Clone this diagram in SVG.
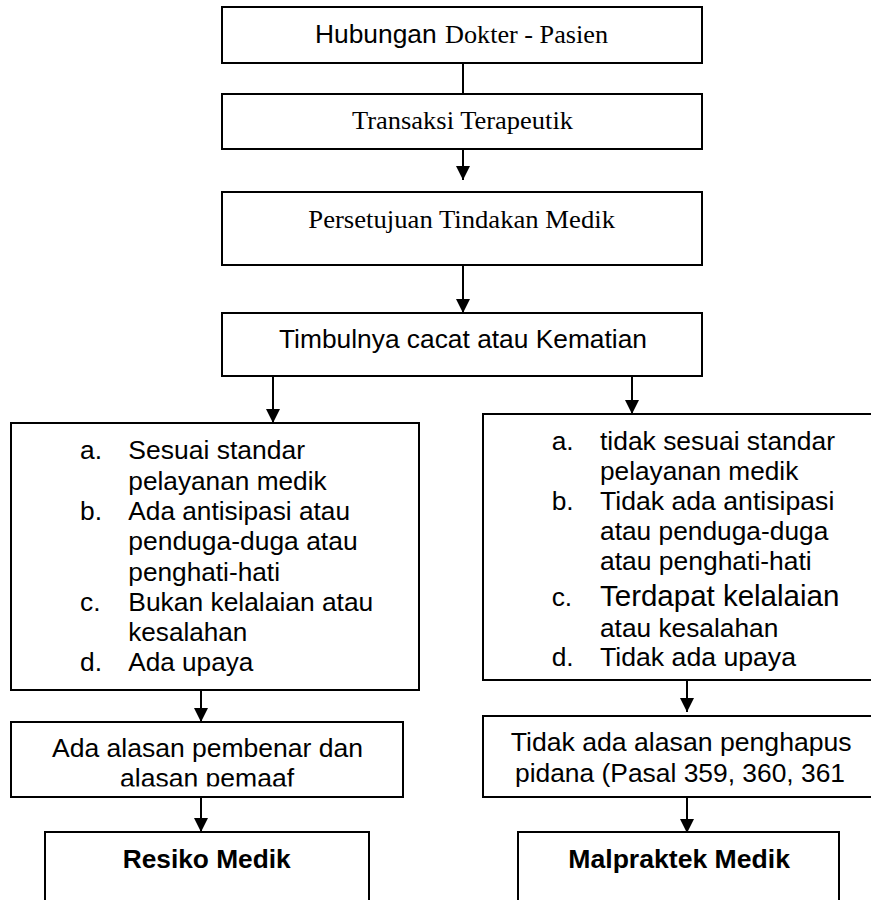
<svg xmlns="http://www.w3.org/2000/svg" width="871" height="900" viewBox="0 0 871 900">
<style>
.box{fill:#fff;stroke:#000;stroke-width:2}
.sans{font-family:"Liberation Sans",Arial,sans-serif;font-size:26.4px;fill:#000}
.serif{font-family:"Liberation Serif","Times New Roman",serif;font-size:26.2px;fill:#000}
.bold{font-weight:bold}
.big{font-size:29px}
.conn{stroke:#000;stroke-width:2;fill:none}
</style>
<defs>
<marker id="arrow" markerUnits="userSpaceOnUse" markerWidth="14" markerHeight="14" refX="14" refY="7" orient="auto" viewBox="0 0 14 14">
<path d="M0,0 L14,7 L0,14 z" fill="#000"/>
</marker>
<clipPath id="clipL2"><rect x="12" y="723" width="390" height="63.5"/></clipPath>
</defs>
<rect width="871" height="900" fill="#fff"/>

<g id="connectors">
<line class="conn" x1="463" y1="63" x2="463" y2="94"/>
<line class="conn" x1="463" y1="149" x2="463" y2="180" marker-end="url(#arrow)"/>
<line class="conn" x1="463" y1="265" x2="463" y2="313" marker-end="url(#arrow)"/>
<line class="conn" x1="273" y1="376" x2="273" y2="423" marker-end="url(#arrow)"/>
<line class="conn" x1="632" y1="376" x2="632" y2="414" marker-end="url(#arrow)"/>
<line class="conn" x1="201" y1="690" x2="201" y2="722" marker-end="url(#arrow)"/>
<line class="conn" x1="201" y1="797" x2="201" y2="832" marker-end="url(#arrow)"/>
<line class="conn" x1="687" y1="680" x2="687" y2="712" marker-end="url(#arrow)"/>
<line class="conn" x1="687" y1="797" x2="687" y2="833" marker-end="url(#arrow)"/>
</g>

<g id="hubungan">
<rect class="box" x="222" y="7" width="480" height="56"/>
<text class="sans" x="315" y="42.7" textLength="121.7" lengthAdjust="spacingAndGlyphs">Hubungan</text>
<text class="serif" x="445" y="42.7" textLength="163" lengthAdjust="spacingAndGlyphs">Dokter - Pasien</text>
</g>

<g id="transaksi">
<rect class="box" x="222" y="94" width="480" height="55"/>
<text class="serif" x="352" y="129" textLength="221" lengthAdjust="spacingAndGlyphs">Transaksi Terapeutik</text>
</g>

<g id="persetujuan">
<rect class="box" x="222" y="192" width="480" height="73"/>
<text class="serif" x="308.3" y="228.3" textLength="306.7" lengthAdjust="spacingAndGlyphs">Persetujuan Tindakan Medik</text>
</g>

<g id="timbulnya">
<rect class="box" x="222" y="313" width="480" height="63"/>
<text class="sans" x="279" y="347.5" textLength="368" lengthAdjust="spacingAndGlyphs">Timbulnya cacat atau Kematian</text>
</g>

<g id="sesuai">
<rect class="box" x="11" y="423" width="408" height="267"/>
<text class="sans" x="80" y="459.3" textLength="22" lengthAdjust="spacingAndGlyphs">a.</text>
<text class="sans" x="128.3" y="459.3" textLength="176.7" lengthAdjust="spacingAndGlyphs">Sesuai standar</text>
<text class="sans" x="128.3" y="489.6" textLength="198.3" lengthAdjust="spacingAndGlyphs">pelayanan medik</text>
<text class="sans" x="80" y="519.9" textLength="22" lengthAdjust="spacingAndGlyphs">b.</text>
<text class="sans" x="128.3" y="519.9" textLength="221.7" lengthAdjust="spacingAndGlyphs">Ada antisipasi atau</text>
<text class="sans" x="128.3" y="550.2" textLength="229.3" lengthAdjust="spacingAndGlyphs">penduga-duga atau</text>
<text class="sans" x="128.3" y="580.5" textLength="151.7" lengthAdjust="spacingAndGlyphs">penghati-hati</text>
<text class="sans" x="80" y="610.8" textLength="20.5" lengthAdjust="spacingAndGlyphs">c.</text>
<text class="sans" x="128.3" y="610.8" textLength="245" lengthAdjust="spacingAndGlyphs">Bukan kelalaian atau</text>
<text class="sans" x="128.3" y="641.1" textLength="119" lengthAdjust="spacingAndGlyphs">kesalahan</text>
<text class="sans" x="80" y="671.4" textLength="22" lengthAdjust="spacingAndGlyphs">d.</text>
<text class="sans" x="128.3" y="671.4" textLength="125" lengthAdjust="spacingAndGlyphs">Ada upaya</text>
</g>

<g id="tidak-sesuai">
<rect class="box" x="483" y="414" width="400" height="266"/>
<text class="sans" x="551.7" y="450" textLength="22" lengthAdjust="spacingAndGlyphs">a.</text>
<text class="sans" x="600" y="450" textLength="235" lengthAdjust="spacingAndGlyphs">tidak sesuai standar</text>
<text class="sans" x="600" y="479.8" textLength="198.3" lengthAdjust="spacingAndGlyphs">pelayanan medik</text>
<text class="sans" x="551.7" y="510" textLength="22" lengthAdjust="spacingAndGlyphs">b.</text>
<text class="sans" x="600" y="510" textLength="234.3" lengthAdjust="spacingAndGlyphs">Tidak ada antisipasi</text>
<text class="sans" x="600" y="540" textLength="228.3" lengthAdjust="spacingAndGlyphs">atau penduga-duga</text>
<text class="sans" x="600" y="570" textLength="211.7" lengthAdjust="spacingAndGlyphs">atau penghati-hati</text>
<text class="sans" x="551.7" y="606" textLength="20.5" lengthAdjust="spacingAndGlyphs">c.</text>
<text class="sans big" x="600" y="606" textLength="239.3" lengthAdjust="spacingAndGlyphs">Terdapat kelalaian</text>
<text class="sans" x="600" y="636.7" textLength="178.3" lengthAdjust="spacingAndGlyphs">atau kesalahan</text>
<text class="sans" x="551.7" y="665.7" textLength="22" lengthAdjust="spacingAndGlyphs">d.</text>
<text class="sans" x="600" y="665.7" textLength="196" lengthAdjust="spacingAndGlyphs">Tidak ada upaya</text>
</g>

<g id="alasan-pembenar">
<rect class="box" x="11" y="722" width="392" height="75"/>
<g clip-path="url(#clipL2)">
<text class="sans" x="52" y="756.7" textLength="311" lengthAdjust="spacingAndGlyphs">Ada alasan pembenar dan</text>
<text class="sans" x="120" y="787.3" textLength="174" lengthAdjust="spacingAndGlyphs">alasan pemaaf</text>
</g>
</g>

<g id="alasan-penghapus">
<rect class="box" x="483" y="716" width="400" height="81"/>
<text class="sans" x="510.7" y="750.7" textLength="341" lengthAdjust="spacingAndGlyphs">Tidak ada alasan penghapus</text>
<text class="sans" x="515" y="781.7" textLength="330" lengthAdjust="spacingAndGlyphs">pidana (Pasal 359, 360, 361</text>
</g>

<g id="resiko-medik">
<rect class="box" x="45" y="832" width="324" height="90"/>
<text class="sans bold" x="122.7" y="867.5" textLength="168" lengthAdjust="spacingAndGlyphs">Resiko Medik</text>
</g>

<g id="malpraktek-medik">
<rect class="box" x="518" y="832" width="321" height="90"/>
<text class="sans bold" x="568.3" y="867.5" textLength="221.7" lengthAdjust="spacingAndGlyphs">Malpraktek Medik</text>
</g>
</svg>
